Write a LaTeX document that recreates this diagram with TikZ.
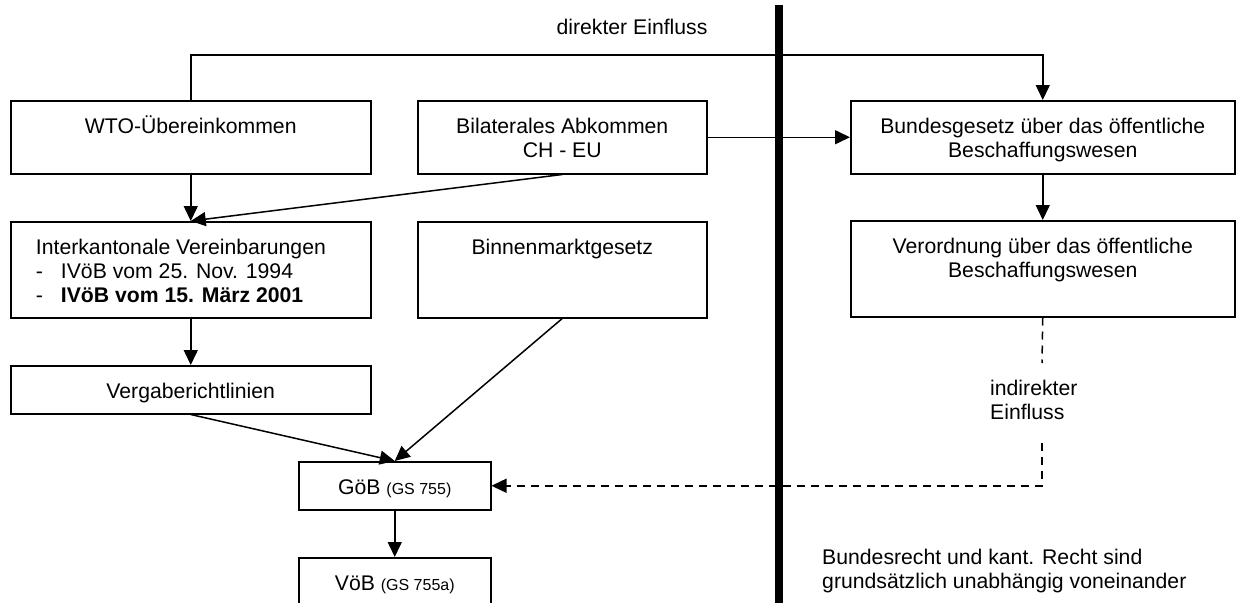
\documentclass[tikz,border=0pt]{standalone}
\usepackage{fontspec}
\setmainfont{Liberation Sans}
\usetikzlibrary{arrows.meta}

\tikzset{
  box/.style={draw, line width=1.5pt, anchor=north west, inner sep=0pt},
  lbl/.style={font=\fontsize{21.2}{24}\selectfont, inner sep=0pt, align=center, anchor=north, yshift=-16pt},
  frei/.style={font=\fontsize{21.2}{24}\selectfont, inner sep=0pt, align=left, anchor=north west},
  arr/.style={line width=1.5pt, -{Triangle[length=15pt,width=14pt]}},
  dsh/.style={line width=1.5pt, dash pattern=on 8pt off 6pt},
}

\begin{document}
\begin{tikzpicture}[x=1pt,y=-1pt]
\useasboundingbox (0,0) rectangle (1238,602);
\clip (0,0) rectangle (1238,602);

% obere Reihe
\node[box, minimum width=360pt, minimum height=73pt,
  label={[lbl]north:{\strut WTO-Übereinkommen}}] (wto) at (10,100) {};
\node[box, minimum width=289pt, minimum height=73pt,
  label={[lbl]north:{\strut Bilaterales Abkommen\\CH - EU}}] (bil) at (417,100) {};
\node[box, minimum width=384pt, minimum height=73pt,
  label={[lbl]north:{\strut Bundesgesetz über das öffentliche\\Beschaffungswesen}}] (bund) at (850,100) {};

% zweite Reihe
\node[box, minimum width=360pt, minimum height=96pt,
  label={[lbl, anchor=north west, xshift=-155pt, align=left]north:{\strut Interkantonale Vereinbarungen\\
    \makebox[25pt][l]{-}IVöB vom 25. Nov. 1994\\
    \makebox[25pt][l]{-}\textbf{IVöB vom 15. März 2001}}}] (ivob) at (10,221) {};
\node[box, minimum width=289pt, minimum height=96pt,
  label={[lbl]north:{\strut Binnenmarktgesetz}}] (binnen) at (417,221) {};
\node[box, minimum width=384pt, minimum height=96pt,
  label={[lbl]north:{\strut Verordnung über das öffentliche\\Beschaffungswesen}}] (vo) at (850,220) {};

% kantonal
\node[box, minimum width=360pt, minimum height=48pt,
  label={[lbl]north:{\strut Vergaberichtlinien}}] (verg) at (10,365) {};
\node[box, minimum width=192pt, minimum height=48pt,
  label={[lbl]north:{\strut GöB {\fontsize{16}{18}\selectfont (GS 755)}}}] (gob) at (298,461) {};
\node[box, minimum width=192pt, minimum height=60pt,
  label={[lbl]north:{\strut VöB {\fontsize{16}{18}\selectfont (GS 755a)}}}] (vob) at (298,557) {};

% Texte
\node[font=\fontsize{21.2}{24}\selectfont, inner sep=0pt] (dir) at (632,27) {direkter Einfluss};
\node[frei] (ind) at (990,378) {\strut indirekter\\Einfluss};
\node[frei] (hinw) at (822,547) {\strut Bundesrecht und kant. Recht sind\\grundsätzlich unabhängig voneinander};
\coordinate (k1) at (1042,363);
\coordinate (k2) at (1042,443);

% Pfeile
\draw[arr] (wto.north) -- ++(0,-45) -| (bund.north);
\draw[arr] (bil.east) -- (bund.west);
\draw[arr] (wto.south) -- (ivob.north);
\draw[arr] (bil.south) -- (ivob.north);
\draw[arr] (ivob.south) -- (verg.north);
\draw[arr] (verg.south) -- (gob.north);
\draw[arr] (binnen.south) -- (gob.north);
\draw[arr] (gob.south) -- (vob.north);
\draw[arr] (bund.south) -- (vo.north);
\draw[dsh] (vo.south) -- (k1);
\draw[dsh, arr] (k2) |- (gob.east);

% Trennlinie Bund / Kanton
\draw[line width=8pt] (779,5) -- (779,610);
\end{tikzpicture}
\end{document}
